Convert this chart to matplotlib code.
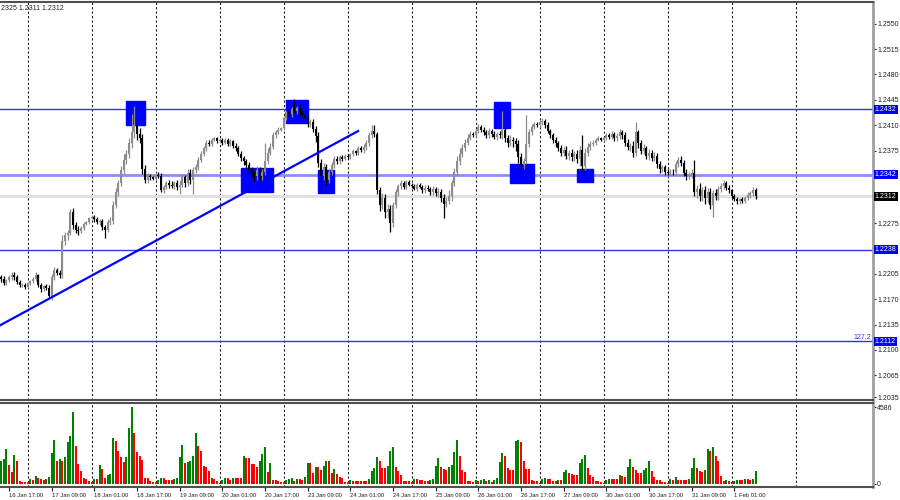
import numpy as np
import matplotlib.pyplot as plt
from matplotlib.patches import Rectangle
import matplotlib.transforms as mtransforms

plt.rcParams['font.family'] = ['Liberation Sans', 'DejaVu Sans']

# EURUSD H1, closes in pips above 1.2000, one list per trading day
c_jan16 = [198, 192, 196, 200, 204, 201, 194, 189, 190, 187]
c_jan17 = [192, 195, 198, 203, 190, 184, 188, 186, 175, 200, 210, 206, 203, 250, 258, 262, 290, 272, 266, 264, 268, 274, 276, 282]
c_jan18 = [284, 280, 276, 278, 270, 266, 276, 278, 300, 318, 330, 348, 362, 370, 385, 400, 410, 398, 392, 350, 335, 340, 338, 336]
c_jan19 = [342, 340, 320, 325, 330, 328, 326, 330, 325, 328, 338, 330, 344, 335, 348, 352, 362, 370, 378, 386, 384, 390, 392, 388]
c_jan20 = [390, 386, 390, 384, 388, 382, 378, 370, 365, 360, 355, 348, 344, 340, 348, 340, 345, 360, 372, 380, 396, 400, 404, 406]
c_jan23 = [420, 428, 425, 432, 430, 434, 428, 424, 420, 412, 415, 405, 395, 358, 340, 352, 335, 345, 355, 364, 360, 366, 364, 368]
c_jan24 = [366, 370, 374, 372, 378, 376, 380, 386, 396, 402, 398, 320, 300, 310, 290, 295, 275, 300, 318, 326, 330, 325, 332, 328]
c_jan25 = [326, 322, 328, 325, 320, 324, 322, 318, 322, 316, 318, 310, 302, 305, 312, 330, 345, 360, 370, 378, 386, 392, 398, 396]
c_jan26 = [402, 408, 404, 400, 396, 402, 398, 394, 398, 396, 404, 392, 386, 390, 388, 384, 366, 355, 360, 384, 400, 408, 412, 410]
c_jan27 = [414, 416, 410, 402, 396, 390, 385, 378, 372, 376, 368, 372, 366, 370, 364, 376, 354, 372, 380, 384, 386, 390, 392, 390]
c_jan30 = [392, 396, 394, 398, 392, 395, 400, 396, 386, 380, 382, 372, 400, 385, 375, 378, 368, 372, 365, 368, 356, 350, 352, 346]
c_jan31 = [344, 346, 345, 356, 362, 358, 344, 340, 342, 344, 318, 322, 312, 320, 310, 318, 300, 316, 312, 322, 326, 330, 324, 320]
c_feb01 = [312, 308, 305, 308, 306, 310, 314, 316, 320, 312]
open_first = 200

# upper / lower wick lengths in pips
u_jan16 = [3, 4, 2, 3, 4, 3, 2, 2, 3, 2]
u_jan17 = [2, 2, 3, 4, 2, 3, 2, 3, 3, 5, 4, 3, 4, 8, 5, 4, 5, 6, 4, 5, 3, 3, 2, 2]
u_jan18 = [2, 2, 3, 3, 3, 2, 4, 5, 5, 6, 5, 6, 8, 6, 7, 25, 26, 8, 8, 6, 5, 4, 3, 2]
u_jan19 = [3, 3, 4, 3, 3, 4, 5, 3, 4, 6, 5, 4, 6, 5, 4, 5, 4, 5, 4, 3, 4, 3, 2, 2]
u_jan20 = [2, 2, 3, 2, 3, 2, 3, 3, 4, 3, 4, 4, 5, 3, 6, 4, 5, 25, 6, 5, 4, 3, 3, 2]
u_jan23 = [3, 2, 4, 3, 14, 3, 5, 3, 4, 3, 4, 3, 4, 6, 5, 6, 4, 5, 4, 3, 4, 3, 3, 2]
u_jan24 = [2, 2, 3, 2, 3, 3, 4, 4, 5, 8, 9, 3, 5, 6, 5, 6, 5, 4, 4, 3, 4, 3, 3, 2]
u_jan25 = [2, 3, 2, 3, 2, 3, 4, 3, 4, 3, 5, 4, 5, 6, 8, 5, 6, 7, 8, 6, 5, 6, 4, 3]
u_jan26 = [3, 4, 3, 4, 3, 4, 3, 4, 3, 4, 26, 4, 5, 6, 4, 5, 6, 6, 5, 40, 5, 4, 3, 3]
u_jan27 = [3, 4, 3, 4, 3, 3, 4, 3, 5, 4, 5, 4, 5, 4, 6, 5, 21, 6, 5, 4, 3, 3, 3, 2]
u_jan30 = [2, 3, 3, 4, 3, 4, 5, 4, 4, 5, 4, 6, 15, 4, 5, 6, 4, 5, 4, 5, 4, 5, 3, 3]
u_jan31 = [3, 3, 4, 5, 4, 6, 4, 5, 4, 6, 18, 6, 8, 5, 6, 5, 6, 5, 6, 4, 5, 4, 3, 3]
u_feb01 = [2, 3, 3, 2, 3, 3, 4, 3, 5, 4]

d_jan16 = [4, 3, 3, 2, 3, 4, 3, 2, 2, 3]
d_jan17 = [2, 2, 2, 3, 3, 4, 3, 3, 3, 6, 4, 3, 4, 4, 5, 6, 4, 5, 4, 6, 3, 3, 2, 2]
d_jan18 = [2, 3, 2, 4, 4, 11, 3, 3, 4, 4, 5, 4, 5, 6, 5, 6, 8, 8, 6, 7, 4, 5, 3, 2]
d_jan19 = [2, 3, 2, 3, 3, 4, 3, 4, 5, 10, 3, 5, 4, 6, 20, 4, 4, 3, 3, 3, 2, 3, 2, 2]
d_jan20 = [2, 3, 2, 3, 2, 3, 3, 3, 4, 5, 5, 6, 6, 8, 5, 5, 5, 4, 4, 3, 3, 3, 2, 2]
d_jan23 = [3, 3, 3, 3, 3, 4, 4, 3, 4, 5, 4, 5, 8, 6, 22, 6, 8, 5, 4, 4, 3, 3, 3, 2]
d_jan24 = [2, 3, 2, 3, 3, 3, 4, 4, 5, 4, 4, 5, 8, 6, 8, 8, 12, 6, 4, 5, 4, 3, 3, 2]
d_jan25 = [2, 2, 3, 2, 3, 3, 3, 4, 4, 3, 5, 6, 20, 5, 4, 6, 4, 5, 5, 4, 4, 3, 3, 2]
d_jan26 = [2, 3, 3, 4, 3, 4, 4, 3, 4, 4, 5, 5, 6, 5, 8, 10, 8, 9, 5, 4, 4, 4, 3, 2]
d_jan27 = [2, 3, 4, 3, 4, 4, 5, 4, 4, 5, 5, 6, 5, 6, 6, 10, 8, 6, 5, 4, 3, 3, 2, 2]
d_jan30 = [2, 2, 3, 3, 4, 4, 4, 5, 5, 4, 5, 6, 4, 6, 5, 4, 5, 6, 5, 4, 5, 6, 4, 4]
d_jan31 = [3, 4, 3, 4, 4, 4, 4, 5, 4, 5, 6, 8, 6, 6, 8, 7, 6, 17, 5, 5, 4, 4, 3, 3]
d_feb01 = [3, 3, 4, 3, 3, 3, 3, 4, 3, 4]

# tick volumes
v_jan16 = [1380, 1500, 2100, 1140, 720, 1740, 1380, 180, 120, 120]
v_jan17 = [120, 300, 240, 480, 360, 300, 240, 300, 420, 1860, 2640, 1380, 1500, 1380, 1620, 2520, 2880, 4320, 2280, 1200, 780, 360, 300, 180]
v_jan18 = [120, 300, 300, 1140, 900, 360, 540, 600, 2760, 2580, 1980, 1620, 1320, 1620, 3360, 4586, 3060, 1920, 1680, 1440, 360, 360, 180, 120]
v_jan19 = [120, 240, 360, 360, 240, 240, 240, 300, 360, 1620, 2340, 1260, 1320, 1380, 1680, 3060, 2280, 1980, 1080, 1020, 780, 360, 300, 180]
v_jan20 = [60, 240, 360, 360, 240, 360, 360, 360, 360, 1680, 1560, 1560, 1200, 1200, 1020, 1380, 1800, 2220, 720, 1260, 240, 240, 180, 120]
v_jan23 = [120, 240, 300, 360, 180, 300, 300, 240, 420, 1260, 1260, 660, 1020, 1020, 840, 1080, 1380, 1380, 660, 900, 600, 420, 360, 120]
v_jan24 = [120, 240, 180, 180, 180, 180, 180, 180, 300, 780, 960, 1620, 1380, 960, 960, 1080, 1980, 2220, 1020, 780, 540, 180, 180, 180]
v_jan25 = [120, 300, 300, 240, 240, 180, 180, 240, 300, 1080, 1560, 1020, 900, 840, 1020, 1140, 1920, 2640, 1680, 840, 720, 180, 180, 120]
v_jan26 = [240, 180, 240, 300, 180, 240, 120, 240, 360, 1320, 1860, 1680, 960, 840, 840, 2580, 2640, 2520, 1380, 900, 900, 240, 180, 180]
v_jan27 = [60, 300, 360, 300, 300, 180, 180, 240, 240, 720, 840, 660, 600, 540, 540, 1260, 1500, 1740, 960, 540, 420, 180, 180, 120]
v_jan30 = [60, 240, 300, 300, 300, 300, 540, 480, 420, 1020, 1500, 1020, 840, 660, 660, 840, 960, 1380, 780, 420, 240, 240, 120, 120]
v_jan31 = [60, 300, 240, 420, 240, 240, 240, 240, 300, 960, 1560, 960, 780, 720, 840, 2100, 1980, 2220, 1680, 1380, 480, 180, 240, 180]
v_feb01 = [120, 180, 240, 240, 240, 300, 300, 240, 300, 780]

# levels and marks
levels = [1.2432, 1.2342, 1.2238, 1.2112]
last_price = 1.2312
price_ticks = [1.2550, 1.2515, 1.2480, 1.2445, 1.2410, 1.2375, 1.2275,
               1.2205, 1.2170, 1.2135, 1.2100, 1.2065, 1.2035]
trend = ([-0.4, 133.9], [1.2134, 1.2402])
# (first bar, last bar, low, high)
boxes = [(47, 54, 1.2411, 1.2444), (90, 102, 1.2318, 1.2351),
         (107, 115, 1.2413, 1.2445), (119, 125, 1.2317, 1.2348),
         (185, 191, 1.2406, 1.2442), (191, 200, 1.2330, 1.2357),
         (216, 222, 1.2332, 1.2350)]
day_starts = [10, 34, 58, 82, 106, 130, 154, 178, 202, 226, 250, 274, 298]
time_idx = [3, 19, 35, 51, 67, 83, 99, 115, 131, 147, 163, 179, 195, 211, 227, 243, 259, 275]
time_lbl = ["16 Jan 17:00", "17 Jan 09:00", "18 Jan 01:00", "18 Jan 17:00", "19 Jan 09:00",
            "20 Jan 01:00", "20 Jan 17:00", "23 Jan 09:00", "24 Jan 01:00", "24 Jan 17:00",
            "25 Jan 09:00", "26 Jan 01:00", "26 Jan 17:00", "27 Jan 09:00", "30 Jan 01:00",
            "30 Jan 17:00", "31 Jan 09:00", "1 Feb 01:00"]

close = np.concatenate([c_jan16, c_jan17, c_jan18, c_jan19, c_jan20, c_jan23, c_jan24,
                        c_jan25, c_jan26, c_jan27, c_jan30, c_jan31, c_feb01]) / 10000 + 1.2
up = np.concatenate([u_jan16, u_jan17, u_jan18, u_jan19, u_jan20, u_jan23, u_jan24,
                     u_jan25, u_jan26, u_jan27, u_jan30, u_jan31, u_feb01]) / 10000
dn = np.concatenate([d_jan16, d_jan17, d_jan18, d_jan19, d_jan20, d_jan23, d_jan24,
                     d_jan25, d_jan26, d_jan27, d_jan30, d_jan31, d_feb01]) / 10000
vol = np.concatenate([v_jan16, v_jan17, v_jan18, v_jan19, v_jan20, v_jan23, v_jan24,
                      v_jan25, v_jan26, v_jan27, v_jan30, v_jan31, v_feb01])
opn = np.concatenate([[open_first / 10000 + 1.2], close[:-1]])
x = np.arange(len(close))
top = np.maximum(opn, close)
bot = np.minimum(opn, close)
bull = close >= opn

fig = plt.figure(figsize=(9, 5), dpi=100)
ax = fig.add_axes([0, 0.2, 0.97, 0.796])
axv = fig.add_axes([0, 0.026, 0.97, 0.168])

for a in (ax, axv):
    a.set_xlim(-0.4, 327)
    for d in day_starts:
        a.axvline(d, color='#202020', lw=0.8, ls=(0, (2, 2)), zorder=1)
    a.spines['left'].set_visible(False)
    a.spines['right'].set_color('#a0a0a0')
    a.spines['right'].set_linewidth(2)
    a.spines['top'].set_color('#505050')
    a.spines['bottom'].set_color('#505050')
    a.spines['top'].set_linewidth(1.5)
    a.spines['bottom'].set_linewidth(1.5)
    a.yaxis.tick_right()
    a.tick_params(axis='y', length=2, pad=1, labelsize=5, colors='#202020')

ax.set_ylim(1.2031, 1.2580)
ax.set_xticks([])
ax.set_yticks(price_ticks)
ax.set_yticklabels([f"{p:.4f}" for p in price_ticks])

# marks and levels
for i0, i1, lo, hi in boxes:
    ax.add_patch(Rectangle((i0, lo), i1 - i0, hi - lo, color='#0000ff', zorder=2))
ax.axhline(last_price, color='#e0e0e0', lw=2.2, zorder=1.5)
for lv in levels:
    if lv == 1.2342:
        ax.axhline(lv, color='#8c8cff', lw=2, zorder=1.6)
    else:
        ax.axhline(lv, color='#3030ff', lw=1, zorder=1.6)
ax.plot(trend[0], trend[1], color='#0000ff', lw=1.6, zorder=4)

# candles
colors = np.where(bull, '#8c8c8c', '#000000')
ax.vlines(x, bot - dn, top + up, colors=colors, lw=0.9, zorder=3)
ax.bar(x, np.maximum(top - bot, 0.00005), bottom=bot, width=0.8, color=colors, zorder=3)

trans = mtransforms.blended_transform_factory(ax.transAxes, ax.transData)
for lv in levels:
    ax.text(1.002, lv, f"{lv:.4f}", transform=trans, fontsize=5, color='white',
            va='center', ha='left', bbox=dict(boxstyle='square,pad=0.15', fc='#0000ff', ec='none'))
ax.text(1.002, last_price, f"{last_price:.4f}", transform=trans, fontsize=5, color='white',
        va='center', ha='left', bbox=dict(boxstyle='square,pad=0.15', fc='#000000', ec='none'))
ax.text(0.998, 1.2112 + 0.0001, "127.2", transform=trans, fontsize=5, color='#3030ff',
        va='bottom', ha='right')
fig.text(0.001, 0.982, "2325 1.2311 1.2312", fontsize=5, color='#202020', va='center')

# volumes
vcol = ['#008000' if i > 0 and vol[i] > vol[i - 1] else '#ff0000' for i in range(len(vol))]
vcol[0] = '#008000'
axv.bar(x, vol, width=0.8, color=vcol, zorder=3)
axv.set_ylim(-179, 4828)
axv.set_yticks([0, vol.max()])
axv.set_yticklabels(['0', str(vol.max())])
axv.set_xticks(time_idx)
axv.set_xticklabels(time_lbl)
axv.tick_params(axis='x', length=3, pad=1, labelsize=4.2, colors='#202020')
for t in axv.get_xticklabels():
    t.set_ha('left')

fig.savefig('out.png', dpi=100)
